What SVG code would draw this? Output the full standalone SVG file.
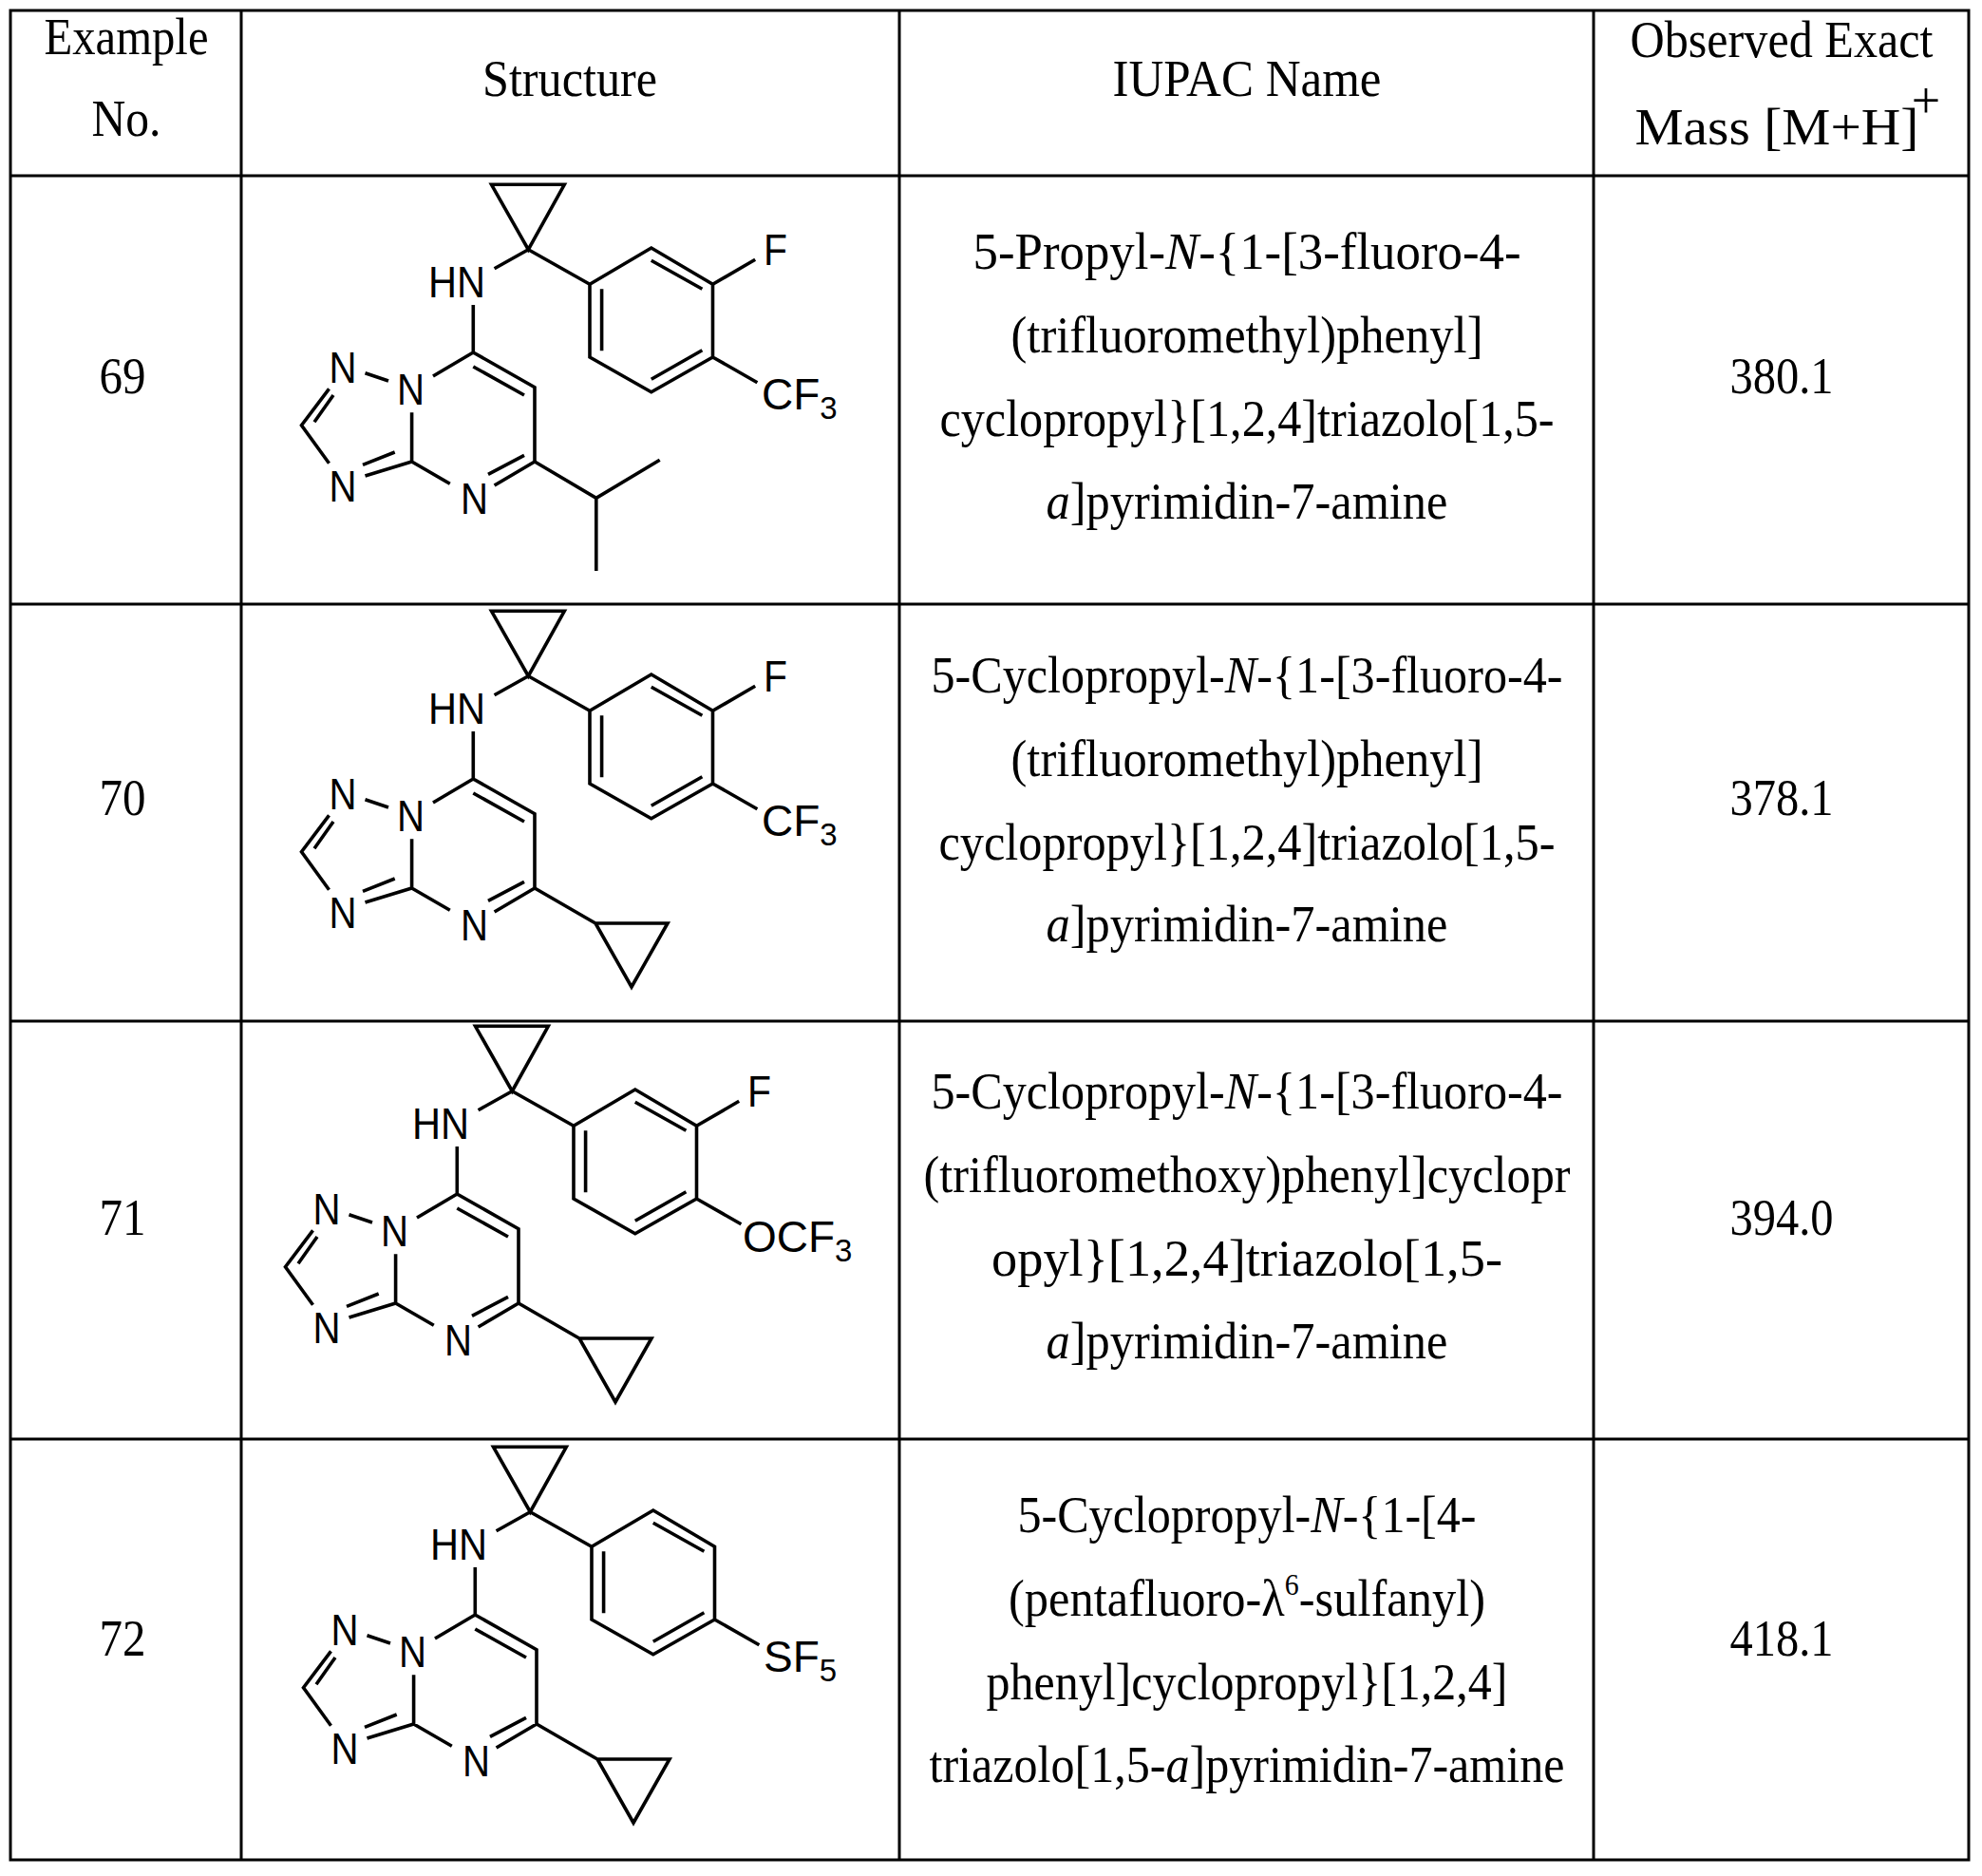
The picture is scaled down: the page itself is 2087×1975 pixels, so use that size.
<svg xmlns="http://www.w3.org/2000/svg" width="2087" height="1975" viewBox="0 0 2087 1975">
<style>
.t{font-family:"Liberation Serif","Times New Roman",serif;font-size:54px;fill:#000;text-anchor:middle}
.a{font-family:"Liberation Sans",Arial,sans-serif;font-size:46px;fill:#000}
.s{font-size:33px}
.b{stroke:#000;stroke-width:3.6;fill:none;stroke-linejoin:miter}
.g{stroke:#000;stroke-width:3;fill:none}
</style>
<defs>
<g id="core">
<path class="b" d="M517.5,194.3 L594.3,194.3 L556.3,262.7 Z M556.3,262.7 L520.6,282.7 M498.3,321 L498.3,371 L563,407.7 L563,486 L520.6,511 M498.3,386 L552,416 M552,479.3 L514,499.3 M433.6,486 L473.8,509.3 M433.6,486 L433.6,434.3 M498.3,371 L456,396 M384.5,392.7 L409,401 M346.5,409.3 L317.5,447.7 L346.5,487.7 M351,416 L331,444.3 M384.5,501 L433.6,486 M382,489.3 L415.7,476 M556.3,262.7 L621,299.3 M621,299.3 L685.8,261 L750.5,299.3 L750.5,376 L685.8,412.7 L621,376 Z M633.6,304.3 L633.6,369.3 M685.8,274.3 L739.4,304.3 M739.4,368.7 L685.8,399.3 M750.5,376 L797.4,402.7"/>
<text class="a" x="451" y="313" textLength="60" lengthAdjust="spacingAndGlyphs">HN</text>
<text class="a" x="418" y="426" textLength="29" lengthAdjust="spacingAndGlyphs">N</text>
<text class="a" x="346.5" y="403" textLength="29" lengthAdjust="spacingAndGlyphs">N</text>
<text class="a" x="346.5" y="528" textLength="29" lengthAdjust="spacingAndGlyphs">N</text>
<text class="a" x="485" y="541" textLength="29" lengthAdjust="spacingAndGlyphs">N</text>
</g>
<g id="fl">
<path class="b" d="M750.5,299.3 L795.2,273.3"/>
<text class="a" x="804" y="279" textLength="25" lengthAdjust="spacingAndGlyphs">F</text>
</g>
<path id="cpr" class="b" d="M563,486 L627,523 M627,523 L703,523 L665,590 Z"/>
</defs>
<g id="table">
<rect class="g" x="11" y="11" width="2062" height="1947"/>
<path class="g" d="M254,11 V1958 M947,11 V1958 M1678,11 V1958 M11,185 H2073 M11,636 H2073 M11,1075 H2073 M11,1515 H2073"/>
</g>
<g id="header">
<text class="t" x="133" y="57" textLength="173" lengthAdjust="spacingAndGlyphs">Example</text>
<text class="t" x="133" y="143" textLength="73" lengthAdjust="spacingAndGlyphs">No.</text>
<text class="t" x="600" y="101" textLength="184" lengthAdjust="spacingAndGlyphs">Structure</text>
<text class="t" x="1313" y="101" textLength="283" lengthAdjust="spacingAndGlyphs">IUPAC Name</text>
<text class="t" x="1876" y="60" textLength="319" lengthAdjust="spacingAndGlyphs">Observed Exact</text>
<text class="t" x="1871" y="152" textLength="299" lengthAdjust="spacingAndGlyphs">Mass [M+H]</text>
<text class="t" x="2028" y="124" font-size="28">+</text>
</g>
<g id="row69">
<text class="t" x="129" y="414" textLength="49" lengthAdjust="spacingAndGlyphs">69</text>
<g id="s69"><use href="#core"/><use href="#fl"/>
<path class="b" d="M563,486 L627.8,524.3 L694.7,484.3 M627.8,524.3 L627.8,601"/>
<text class="a" x="802" y="431">CF<tspan class="s" dy="10">3</tspan></text></g>
<text class="t" x="1313" y="283" textLength="577" lengthAdjust="spacingAndGlyphs">5-Propyl-<tspan font-style="italic">N</tspan>-{1-[3-fluoro-4-</text>
<text class="t" x="1313" y="371" textLength="497" lengthAdjust="spacingAndGlyphs">(trifluoromethyl)phenyl]</text>
<text class="t" x="1313" y="459" textLength="647" lengthAdjust="spacingAndGlyphs">cyclopropyl}[1,2,4]triazolo[1,5-</text>
<text class="t" x="1313" y="546" textLength="423" lengthAdjust="spacingAndGlyphs"><tspan font-style="italic">a</tspan>]pyrimidin-7-amine</text>
<text class="t" x="1876" y="414" textLength="109" lengthAdjust="spacingAndGlyphs">380.1</text>
</g>
<g id="row70">
<text class="t" x="129" y="858" textLength="49" lengthAdjust="spacingAndGlyphs">70</text>
<g id="s70" transform="translate(0,449)"><use href="#core"/><use href="#fl"/><use href="#cpr"/>
<text class="a" x="802" y="431">CF<tspan class="s" dy="10">3</tspan></text></g>
<text class="t" x="1313" y="729" textLength="665" lengthAdjust="spacingAndGlyphs">5-Cyclopropyl-<tspan font-style="italic">N</tspan>-{1-[3-fluoro-4-</text>
<text class="t" x="1313" y="817" textLength="497" lengthAdjust="spacingAndGlyphs">(trifluoromethyl)phenyl]</text>
<text class="t" x="1313" y="905" textLength="649" lengthAdjust="spacingAndGlyphs">cyclopropyl}[1,2,4]triazolo[1,5-</text>
<text class="t" x="1313" y="991" textLength="423" lengthAdjust="spacingAndGlyphs"><tspan font-style="italic">a</tspan>]pyrimidin-7-amine</text>
<text class="t" x="1876" y="858" textLength="109" lengthAdjust="spacingAndGlyphs">378.1</text>
</g>
<g id="row71">
<text class="t" x="129" y="1300" textLength="49" lengthAdjust="spacingAndGlyphs">71</text>
<g id="s71" transform="translate(-17,886)"><use href="#core"/><use href="#fl"/><use href="#cpr"/>
<text class="a" x="799" y="432">OCF<tspan class="s" dy="10">3</tspan></text></g>
<text class="t" x="1313" y="1167" textLength="665" lengthAdjust="spacingAndGlyphs">5-Cyclopropyl-<tspan font-style="italic">N</tspan>-{1-[3-fluoro-4-</text>
<text class="t" x="1313" y="1255" textLength="681" lengthAdjust="spacingAndGlyphs">(trifluoromethoxy)phenyl]cyclopr</text>
<text class="t" x="1313" y="1343" textLength="538" lengthAdjust="spacingAndGlyphs">opyl}[1,2,4]triazolo[1,5-</text>
<text class="t" x="1313" y="1430" textLength="423" lengthAdjust="spacingAndGlyphs"><tspan font-style="italic">a</tspan>]pyrimidin-7-amine</text>
<text class="t" x="1876" y="1300" textLength="109" lengthAdjust="spacingAndGlyphs">394.0</text>
</g>
<g id="row72">
<text class="t" x="129" y="1743" textLength="49" lengthAdjust="spacingAndGlyphs">72</text>
<g id="s72" transform="translate(2,1329)"><use href="#core"/><use href="#cpr"/>
<text class="a" x="802" y="431">SF<tspan class="s" dy="10">5</tspan></text></g>
<text class="t" x="1313" y="1613" textLength="483" lengthAdjust="spacingAndGlyphs">5-Cyclopropyl-<tspan font-style="italic">N</tspan>-{1-[4-</text>
<text class="t" x="1313" y="1701" textLength="502" lengthAdjust="spacingAndGlyphs">(pentafluoro-λ<tspan dy="-22" font-size="32">6</tspan><tspan dy="22">-sulfanyl)</tspan></text>
<text class="t" x="1313" y="1789" textLength="549" lengthAdjust="spacingAndGlyphs">phenyl]cyclopropyl}[1,2,4]</text>
<text class="t" x="1313" y="1876" textLength="669" lengthAdjust="spacingAndGlyphs">triazolo[1,5-<tspan font-style="italic">a</tspan>]pyrimidin-7-amine</text>
<text class="t" x="1876" y="1743" textLength="109" lengthAdjust="spacingAndGlyphs">418.1</text>
</g>
</svg>
